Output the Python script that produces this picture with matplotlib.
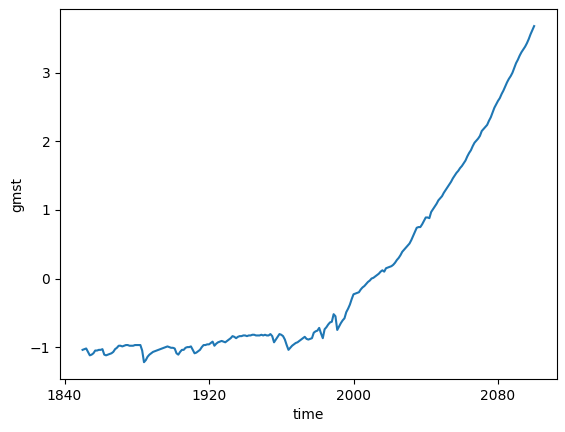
import matplotlib
matplotlib.use("Agg")
import matplotlib.pyplot as plt
import numpy as np

years = list(range(1850, 2101))
gmst = [
    -1.04, -1.03, -1.02, -1.07, -1.12, -1.11, -1.09, -1.05, -1.05, -1.04,
    -1.04, -1.03, -1.11, -1.12, -1.11, -1.10, -1.09, -1.07, -1.03, -1.01,
    -0.98, -0.98, -0.99, -0.98, -0.97, -0.97, -0.98, -0.98, -0.98, -0.97,
    -0.97, -0.97, -0.97, -1.05, -1.22, -1.19, -1.14, -1.11, -1.09, -1.07,
    -1.06, -1.05, -1.04, -1.03, -1.02, -1.01, -1.00, -0.99, -1.00, -1.01,
    -1.01, -1.02, -1.09, -1.11, -1.07, -1.04, -1.04, -1.01, -1.00, -1.00,
    -0.99, -1.04, -1.09, -1.08, -1.06, -1.04, -1.00, -0.97, -0.97, -0.96,
    -0.96, -0.94, -0.92, -0.98, -0.95, -0.93, -0.92, -0.91, -0.92, -0.93,
    -0.91, -0.89, -0.87, -0.84, -0.85, -0.87, -0.85, -0.84, -0.84, -0.83,
    -0.83, -0.84, -0.83, -0.83, -0.82, -0.82, -0.83, -0.83, -0.83, -0.82,
    -0.83, -0.82, -0.83, -0.83, -0.81, -0.84, -0.93, -0.89, -0.85, -0.81,
    -0.82, -0.84, -0.89, -0.97, -1.04, -1.01, -0.98, -0.96, -0.94, -0.93,
    -0.91, -0.89, -0.87, -0.85, -0.88, -0.89, -0.88, -0.87, -0.79, -0.77,
    -0.76, -0.72, -0.80, -0.87, -0.74, -0.71, -0.67, -0.64, -0.63, -0.52,
    -0.55, -0.75, -0.70, -0.65, -0.61, -0.58, -0.49, -0.44, -0.38, -0.30,
    -0.23, -0.22, -0.21, -0.20, -0.16, -0.13, -0.11, -0.08, -0.05, -0.03,
    0.00, 0.01, 0.03, 0.05, 0.07, 0.10, 0.12, 0.10, 0.15, 0.16,
    0.17, 0.18, 0.20, 0.23, 0.27, 0.30, 0.34, 0.39, 0.42, 0.45,
    0.48, 0.51, 0.56, 0.62, 0.68, 0.74, 0.75, 0.75, 0.79, 0.84,
    0.89, 0.89, 0.88, 0.97, 1.01, 1.05, 1.09, 1.14, 1.17, 1.20,
    1.25, 1.29, 1.33, 1.37, 1.41, 1.46, 1.50, 1.54, 1.57, 1.61,
    1.64, 1.68, 1.72, 1.78, 1.83, 1.87, 1.93, 1.98, 2.01, 2.04,
    2.08, 2.15, 2.18, 2.21, 2.24, 2.30, 2.35, 2.42, 2.49, 2.54,
    2.59, 2.63, 2.69, 2.74, 2.80, 2.86, 2.91, 2.95, 3.00, 3.07,
    3.14, 3.19, 3.25, 3.30, 3.34, 3.38, 3.43, 3.49, 3.56, 3.62,
    3.68,
]
xticks = [1840, 1920, 2000, 2080]
yticks = [-1, 0, 1, 2, 3]

W, H = 565, 432
fig = plt.figure(figsize=(W / 100, H / 100), dpi=100)
ax = fig.add_axes([60 / W, (H - 379) / H, 496.7 / W, 369.7 / H])
ax.plot(years, gmst, color="#1f77b4", linewidth=1.5)
ax.set_xticks(xticks)
ax.set_xticklabels([str(t) for t in xticks])
ax.set_yticks(yticks)
ax.set_xlabel("time")
ax.set_ylabel("gmst")
fig.savefig("out.png", dpi=100)
